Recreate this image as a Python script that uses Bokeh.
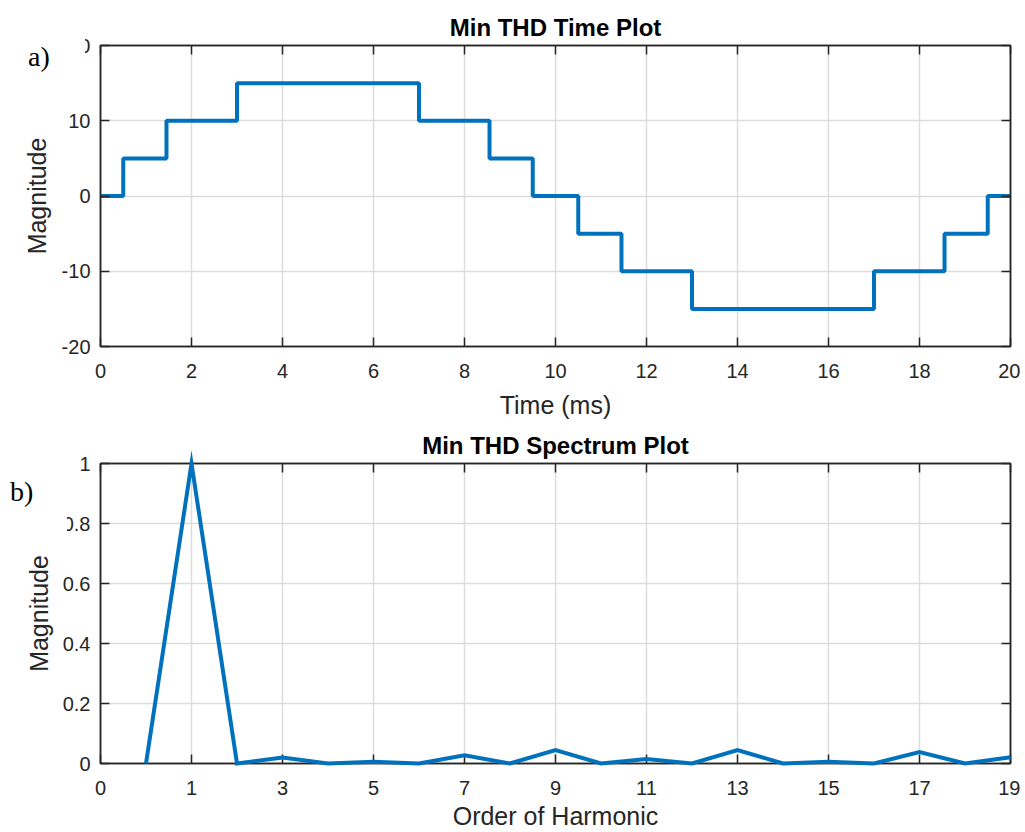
from bokeh.plotting import figure
from bokeh.models import LinearAxis, FixedTicker, Range1d, GridBox, Div
from bokeh.embed import file_html
from bokeh.resources import INLINE

# ---- data ----
step_times = [0, 0.5, 1.45, 3.0, 7.0, 8.55, 9.5, 10.5, 11.45, 13.0, 17.0, 18.55, 19.5, 20]
step_levels = [0, 5, 10, 15, 10, 5, 0, -5, -10, -15, -10, -5, 0, 0]

harmonic_order = [0, 1, 2, 3, 4, 5, 6, 7, 8, 9, 10, 11, 12, 13, 14, 15, 16, 17, 18, 19]
harmonic_mag = [0, 1.0, 0, 0.02, 0, 0.006, 0, 0.027, 0, 0.045, 0, 0.015, 0, 0.045,
                0, 0.006, 0, 0.038, 0, 0.021]

time_ticks = [0, 2, 4, 6, 8, 10, 12, 14, 16, 18, 20]
time_mag_ticks = [-20, -10, 0, 10, 20]
time_mag_labels = {-20: "-20", -10: "-10"}
harm_ticks = [-1, 1, 3, 5, 7, 9, 11, 13, 15, 17, 19]
harm_tick_labels = {-1: "0"}
spec_mag_ticks = [0, 0.2, 0.4, 0.6, 0.8, 1.0]

BLUE = "#0072BD"
DARK = "#262626"
GRID = "#dcdcdc"
FONT = "Liberation Sans"
W = 1020
FL = 100          # frame left
FW = 910          # frame width


def style(p, xticks, yticks, xover=None, yover=None):
    xa, ya = p.below[0], p.left[0]
    p.outline_line_color = DARK
    p.outline_line_width = 1.5
    p.background_fill_color = "white"
    p.border_fill_color = "white"
    p.title.align = "center"
    p.title.text_font = FONT
    p.title.text_font_size = "24px"
    p.title.text_font_style = "bold"
    p.title.text_color = "black"
    p.title.standoff = 9
    for ax in (xa, ya):
        ax.axis_line_color = DARK
        ax.axis_line_width = 1.5
        ax.major_tick_line_color = DARK
        ax.major_tick_line_width = 1.5
        ax.major_tick_in = 9
        ax.major_tick_out = 0
        ax.minor_tick_line_color = None
        ax.major_label_text_font = FONT
        ax.major_label_text_font_size = "20px"
        ax.major_label_text_color = DARK
        ax.axis_label_text_font = FONT
        ax.axis_label_text_font_size = "25px"
        ax.axis_label_text_font_style = "normal"
        ax.axis_label_text_color = DARK
    xa.ticker = FixedTicker(ticks=xticks)
    ya.ticker = FixedTicker(ticks=yticks)
    if xover:
        xa.major_label_overrides = xover
    if yover:
        ya.major_label_overrides = yover
    ya.major_label_standoff = 10
    p.grid.grid_line_color = GRID
    p.grid.grid_line_width = 1.5
    for loc, ticks in (("above", xticks), ("right", yticks)):
        ax = LinearAxis(ticker=FixedTicker(ticks=ticks))
        ax.axis_line_color = DARK
        ax.axis_line_width = 1.5
        ax.major_tick_line_color = DARK
        ax.major_tick_line_width = 1.5
        ax.major_tick_in = 9
        ax.major_tick_out = 0
        ax.minor_tick_line_color = None
        ax.major_label_text_font_size = "1px"
        ax.major_label_text_color = None
        ax.major_label_standoff = 0
        p.add_layout(ax, loc)
    return xa, ya


# ---- top: time plot ----
p1 = figure(width=W, height=425, output_backend="svg", toolbar_location=None,
            title="Min THD Time Plot",
            x_range=Range1d(0, 20), y_range=Range1d(-20, 20),
            min_border_left=FL, min_border_right=W - FL - FW,
            min_border_top=45, min_border_bottom=79)
p1.step(step_times, step_levels, mode="after", line_width=4, line_color=BLUE)
xa1, ya1 = style(p1, time_ticks, time_mag_ticks, yover=time_mag_labels)
p1.title.standoff = 10
xa1.axis_label = "Time (ms)"
ya1.axis_label = "Magnitude"
xa1.major_label_standoff = 17
xa1.axis_label_standoff = 10
ya1.axis_label_standoff = 8

# ---- bottom: spectrum plot ----
p2 = figure(width=W, height=407, output_backend="svg", toolbar_location=None,
            title="Min THD Spectrum Plot",
            x_range=Range1d(-1, 19), y_range=Range1d(0, 1),
            min_border_left=FL, min_border_right=W - FL - FW,
            min_border_top=38, min_border_bottom=69)
p2.line(harmonic_order, harmonic_mag, line_width=4, line_color=BLUE,
        line_join="miter", level="overlay")
xa2, ya2 = style(p2, harm_ticks, spec_mag_ticks, xover=harm_tick_labels)
xa2.axis_label = "Order of Harmonic"
ya2.axis_label = "Magnitude"
xa2.major_label_standoff = 17
xa2.axis_label_standoff = 4
ya2.axis_label_standoff = 7

# ---- panel letters (white boxes, as in the reference) ----
letter_style = {"background-color": "white", "font-family": "Liberation Serif",
                "font-size": "28px", "line-height": "28px", "color": "black",
                "box-sizing": "border-box"}
div_a = Div(text="a)", width=65, height=36, margin=(36, 0, 0, 20),
            styles=dict(letter_style, **{"padding": "7px 0 0 8px"}))
div_b = Div(text="b)", width=67, height=65, margin=(45, 0, 0, 0),
            styles=dict(letter_style, **{"padding": "8px 0 0 10px"}))

layout = GridBox(children=[(p1, 0, 0), (div_a, 0, 0), (p2, 1, 0), (div_b, 1, 0)],
                 spacing=0)
open("out.html", "w").write(file_html(layout, INLINE))
